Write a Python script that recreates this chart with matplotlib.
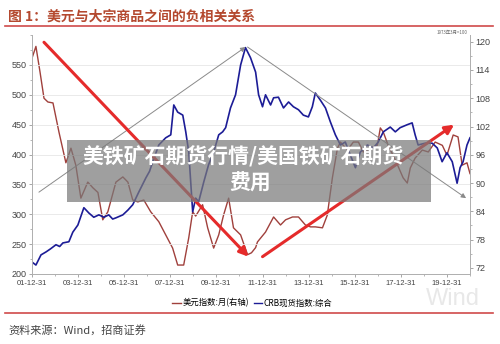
import matplotlib
matplotlib.use("Agg")
import matplotlib.pyplot as plt
from matplotlib.lines import Line2D
from matplotlib.patches import Rectangle
from matplotlib.ticker import MultipleLocator, AutoMinorLocator

plt.rcParams['font.family'] = ['Noto Sans CJK SC', 'DejaVu Sans']

# CRB spot index (left axis)
crb_t = [2002.0, 2002.17, 2002.39, 2002.61, 2002.8, 2003.04, 2003.2, 2003.34, 2003.6, 2003.77,
         2003.99, 2004.25, 2004.47, 2004.68, 2004.9, 2005.12, 2005.33, 2005.5, 2005.64, 2005.94,
         2006.16, 2006.37, 2006.63, 2006.94, 2007.1, 2007.24, 2007.5, 2007.8, 2008.02, 2008.15,
         2008.32, 2008.54, 2008.67, 2008.8, 2008.97, 2009.1, 2009.23, 2009.45, 2009.66, 2009.88,
         2010.1, 2010.27, 2010.4, 2010.61, 2010.83, 2011.05, 2011.26, 2011.48, 2011.7, 2011.83,
         2012.0, 2012.13, 2012.35, 2012.48, 2012.69, 2012.91, 2013.13, 2013.34, 2013.56, 2013.77,
         2013.99, 2014.16, 2014.29, 2014.51, 2014.73, 2014.94, 2015.16, 2015.38, 2015.59, 2015.81,
         2016.03, 2016.24, 2016.55, 2016.81, 2017.02, 2017.24, 2017.54, 2017.76, 2017.97, 2018.28,
         2018.49, 2018.62, 2018.75, 2019.06, 2019.36, 2019.58, 2019.79, 2020.0, 2020.23, 2020.44,
         2020.57, 2020.7, 2020.87, 2021.0]
crb = [220, 215, 232, 237, 242, 249, 246, 252, 254, 270,
       282, 311, 302, 295, 299, 295, 299, 292, 294, 299,
       307, 316, 337, 361, 372, 388, 416, 428, 433, 483,
       471, 466, 438, 404, 304, 327, 321, 354, 383, 404,
       433, 438, 445, 478, 500, 550, 579, 562, 538, 500,
       480, 500, 483, 495, 496, 478, 488, 480, 475, 466,
       463, 480, 503, 491, 478, 455, 433, 416, 421, 399,
       378, 404, 416, 411, 421, 438, 446, 438, 445, 450,
       453, 433, 416, 419, 419, 411, 388, 403, 388, 352,
       378, 388, 416, 428]

# US dollar index, monthly (right axis)
dxy_t = [2002.0, 2002.17, 2002.35, 2002.52, 2002.69, 2002.91, 2003.17, 2003.47, 2003.69, 2003.9,
         2004.12, 2004.42, 2004.64, 2004.86, 2005.07, 2005.29, 2005.64, 2005.94, 2006.16, 2006.37,
         2006.59, 2006.85, 2007.15, 2007.5, 2007.8, 2008.1, 2008.32, 2008.58, 2008.8, 2008.97,
         2009.1, 2009.4, 2009.62, 2009.88, 2010.1, 2010.31, 2010.53, 2010.74, 2011.05, 2011.35,
         2011.52, 2011.7, 2011.78, 2012.13, 2012.48, 2012.78, 2013.0, 2013.3, 2013.56, 2013.86,
         2014.08, 2014.29, 2014.6, 2014.81, 2015.03, 2015.25, 2015.38, 2015.68, 2015.94, 2016.16,
         2016.37, 2016.68, 2016.98, 2017.11, 2017.24, 2017.45, 2017.76, 2018.1, 2018.28, 2018.41,
         2018.62, 2018.93, 2019.19, 2019.49, 2019.8, 2020.0, 2020.27, 2020.48, 2020.66, 2020.87,
         2021.0]
dxy = [116.5, 119.0, 113.5, 108.0, 107.2, 107.0, 100.8, 94.3, 97.4, 93.8,
       86.8, 90.2, 89.0, 88.0, 82.2, 83.9, 90.2, 91.3, 90.2, 86.4,
       86.0, 86.4, 83.9, 81.8, 79.0, 76.2, 72.6, 72.6, 78.4, 83.9,
       83.0, 85.4, 80.5, 76.2, 79.0, 83.2, 86.8, 80.5, 79.0, 74.8,
       75.2, 76.3, 77.5, 79.6, 82.8, 81.1, 82.2, 82.8, 82.8, 81.1,
       80.7, 80.7, 80.5, 83.2, 91.1, 97.4, 98.7, 97.0, 98.7, 98.7,
       96.6, 97.4, 98.0, 101.7, 100.8, 98.0, 94.9, 91.1, 90.0, 93.2,
       95.3, 97.0, 96.6, 98.7, 98.0, 95.9, 100.2, 99.8, 93.8, 94.3,
       92.0]

x_ticks = [2002, 2004, 2006, 2008, 2010, 2012, 2014, 2016, 2018, 2020]
x_labels = ['01-12-31', '03-12-31', '05-12-31', '07-12-31', '09-12-31',
            '11-12-31', '13-12-31', '15-12-31', '17-12-31', '19-12-31']

# trend arrows in (year, left-axis value)
red_arrows = [((2002.52, 588), (2011.39, 229)), ((2012.0, 229), (2020.31, 450))]
gray_arrows = [((2002.30, 337), (2011.26, 580)), ((2011.35, 580), (2020.83, 327))]

fig = plt.figure(figsize=(5.0, 3.44), dpi=100)
ax = fig.add_axes([0.064, 0.2035, 0.876, 0.6945])
ax2 = ax.twinx()
ax.set_zorder(ax2.get_zorder() + 1)
ax.patch.set_visible(False)

ax2.plot(dxy_t, dxy, color='#A0403C', lw=1.0)
ax.plot(crb_t, crb, color='#1C1C96', lw=1.2)

for (s, e) in gray_arrows:
    ax.annotate('', xy=e, xytext=s,
                arrowprops=dict(arrowstyle='-|>', color='#8a8a8a', lw=0.7,
                                mutation_scale=7, shrinkA=0, shrinkB=0))
for (s, e) in red_arrows:
    ax.annotate('', xy=e, xytext=s,
                arrowprops=dict(arrowstyle='-|>', color='#E52B2B', lw=2.2,
                                mutation_scale=13, shrinkA=0, shrinkB=0))

ax.set_xlim(2002.0, 2021.0)
ax.set_ylim(200, 600)
ax2.set_ylim(70.7, 121.4)
ax.set_xticks(x_ticks)
ax.set_xticklabels(x_labels)
ax.xaxis.set_minor_locator(MultipleLocator(1))
ax.set_yticks(range(200, 551, 50))
ax.yaxis.set_minor_locator(AutoMinorLocator(2))
ax2.set_yticks(range(72, 121, 6))
ax2.yaxis.set_minor_locator(AutoMinorLocator(2))
ax.grid(axis='y', color='#e6e6e6', lw=0.6)

for a in (ax, ax2):
    a.spines['top'].set_visible(False)
    for sp in ('left', 'right', 'bottom'):
        a.spines[sp].set_color('#b0b0b0')
        a.spines[sp].set_linewidth(0.7)
    a.tick_params(which='major', length=2.5, width=0.6, color='#999999',
                  labelsize=6.5, labelcolor='#444444', pad=1.5)
    a.tick_params(which='minor', length=1.5, width=0.5, color='#999999')
    for lab in a.get_xticklabels() + a.get_yticklabels():
        lab.set_family('Liberation Sans')
ax.tick_params(axis='x', labelsize=5.5, pad=2)

# header, footer
fig.text(0.016, 0.953, '图 1：美元与大宗商品之间的负相关关系', color='#B4492F',
         fontsize=10, fontweight='bold', va='center')
fig.add_artist(Line2D([0.01, 0.985], [0.924, 0.924], color='#D04A4A', lw=1.2))
fig.add_artist(Line2D([0.01, 0.985], [0.090, 0.090], color='#D04A4A', lw=1.2))
fig.text(0.016, 0.041, '资料来源：Wind，招商证券', color='#444444', fontsize=8, va='center')
fig.text(0.904, 0.907, '1973年3月=100', color='#666666', fontsize=3.2, ha='center', va='center')
fig.text(0.905, 0.132, 'Wind', color='#e8e8e8', fontsize=17, ha='center', va='center',
         family='Liberation Sans', zorder=0)

handles = [Line2D([], [], color='#A0403C', lw=1.0), Line2D([], [], color='#1C1C96', lw=1.0)]
fig.legend(handles, ['美元指数:月(右轴)', 'CRB现货指数:综合'], loc='center',
           bbox_to_anchor=(0.505, 0.119), ncol=2, frameon=False, fontsize=6,
           handlelength=1.0, handletextpad=0.2, columnspacing=0.6)

# grey overlay with caption
fig.add_artist(Rectangle((0.134, 0.413), 0.728, 0.180, transform=fig.transFigure,
                         facecolor='#7a7a7a', alpha=0.72, edgecolor='none', zorder=5))
fig.text(0.487, 0.543, '美铁矿石期货行情/美国铁矿石期货', color='white', fontsize=15,
         fontweight='bold', ha='center', va='center', zorder=6)
fig.text(0.5, 0.468, '费用', color='white', fontsize=15,
         fontweight='bold', ha='center', va='center', zorder=6)

fig.savefig('out.png', dpi=100)
